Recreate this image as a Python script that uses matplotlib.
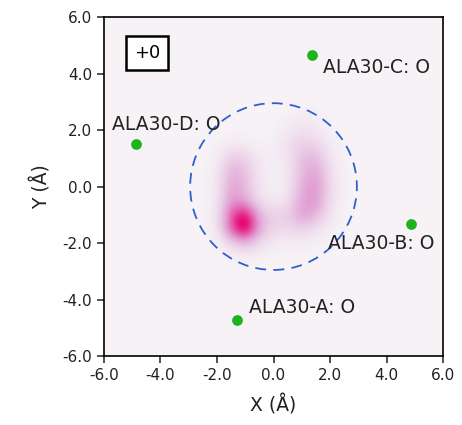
import numpy as np
from matplotlib import pyplot as plt
from matplotlib.colors import LinearSegmentedColormap
from matplotlib.patches import Circle
from matplotlib.ticker import FormatStrFormatter

plt.rcParams['axes.unicode_minus'] = False

# density, on a 0.5 A grid from -3 to 3 (rows top -> bottom)
grid_x = [-3.0, -2.5, -2.0, -1.5, -1.0, -0.5, 0.0, 0.5, 1.0, 1.5, 2.0, 2.5, 3.0]
grid_y = [3.0, 2.5, 2.0, 1.5, 1.0, 0.5, 0.0, -0.5, -1.0, -1.5, -2.0, -2.5, -3.0]
density = np.array([
    [0, 0, 0,    0,    0,    0,    0,    0,    0,    0,    0,    0, 0],
    [0, 0, 0,    0,    0,    0,    0,    0,    0.03, 0.02, 0,    0, 0],
    [0, 0, 0,    0,    0,    0,    0,    0.05, 0.10, 0.06, 0,    0, 0],
    [0, 0, 0,    0.03, 0.03, 0,    0.02, 0.10, 0.20, 0.15, 0.03, 0, 0],
    [0, 0, 0.02, 0.22, 0.18, 0.04, 0.03, 0.07, 0.28, 0.30, 0.07, 0, 0],
    [0, 0, 0.04, 0.36, 0.26, 0.05, 0.02, 0.04, 0.30, 0.40, 0.10, 0, 0],
    [0, 0, 0.05, 0.40, 0.28, 0.05, 0.02, 0.05, 0.34, 0.45, 0.12, 0, 0],
    [0, 0, 0.05, 0.45, 0.34, 0.08, 0.04, 0.08, 0.40, 0.45, 0.10, 0, 0],
    [0, 0, 0.06, 0.62, 0.85, 0.28, 0.18, 0.20, 0.42, 0.32, 0.05, 0, 0],
    [0, 0, 0.04, 0.66, 1.00, 0.34, 0.15, 0.14, 0.20, 0.10, 0.02, 0, 0],
    [0, 0, 0,    0.16, 0.32, 0.12, 0.04, 0.03, 0.03, 0,    0,    0, 0],
    [0, 0, 0,    0,    0.02, 0,    0,    0,    0,    0,    0,    0, 0],
    [0, 0, 0,    0,    0,    0,    0,    0,    0,    0,    0,    0, 0],
])

# oxygen positions
atom_names = ['ALA30-A: O', 'ALA30-B: O', 'ALA30-C: O', 'ALA30-D: O']
atom_x = [-1.29, 4.87, 1.36, -4.87]
atom_y = [-4.73, -1.33, 4.65, 1.50]
label_x = [-0.87, 1.93, 1.75, -5.72]
label_y = [-4.27, -2.00, 4.23, 2.21]

pore_radius = 2.95
frame_label = '+0'

fig = plt.figure(figsize=(4.62, 4.25), dpi=100)
ax = fig.add_axes([0.225, 0.162, 0.734, 0.798])
cmap = LinearSegmentedColormap.from_list(
    'pinks', ['#f6f2f6', '#ebcde6', '#e19ed3', '#e556aa', '#e6006a', '#7a0030'])
ax.set_facecolor(cmap(0.0))

step = grid_x[1] - grid_x[0]
ax.imshow(density, cmap=cmap, vmin=0, vmax=1, interpolation='bicubic',
          extent=(grid_x[0] - step / 2, grid_x[-1] + step / 2,
                  grid_y[-1] - step / 2, grid_y[0] + step / 2),
          origin='upper', zorder=1)

ax.add_patch(Circle((0, 0), pore_radius, fill=False, edgecolor='#2f5fd0',
                    linestyle=(0, (6, 4)), linewidth=1.3, zorder=2))

ax.scatter(atom_x, atom_y, s=45, color='#1db31d', zorder=3)
for name, tx, ty in zip(atom_names, label_x, label_y):
    ax.text(tx, ty, name, fontsize=13.5, va='center', ha='left', color='#222222', zorder=4)

ax.text(0.127, 0.893, frame_label, transform=ax.transAxes, fontsize=13,
        ha='center', va='center',
        bbox=dict(boxstyle='square,pad=0.45', facecolor='white', edgecolor='black', linewidth=1.8))

ax.set_xlim(-6, 6)
ax.set_ylim(-6, 6)
ax.set_aspect('auto')
ticks = [-6, -4, -2, 0, 2, 4, 6]
ax.set_xticks(ticks)
ax.set_yticks(ticks)
ax.xaxis.set_major_formatter(FormatStrFormatter('%.1f'))
ax.yaxis.set_major_formatter(FormatStrFormatter('%.1f'))
ax.tick_params(labelsize=11, length=5, width=1.1, color='#222222', labelcolor='#222222')
for sp in ax.spines.values():
    sp.set_linewidth(1.2)
ax.set_xlabel('X (Å)', fontsize=13.5, color='#222222', labelpad=8)
ax.set_ylabel('Y (Å)', fontsize=13.5, color='#222222', labelpad=8)

fig.savefig('out.png', dpi=100)
